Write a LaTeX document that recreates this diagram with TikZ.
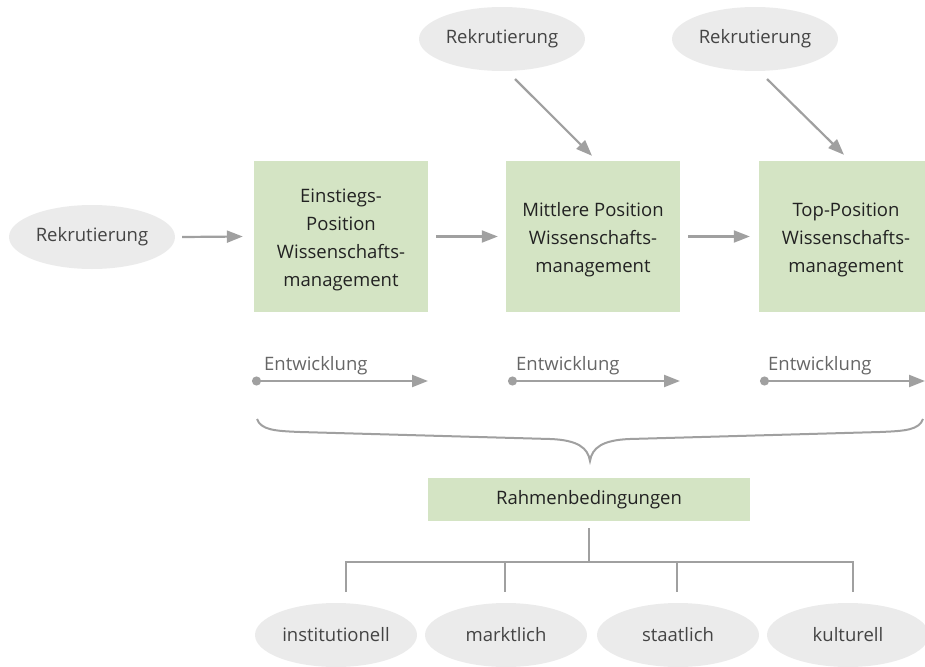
\documentclass[tikz,border=0pt]{standalone}
\usepackage{fontspec}
\setmainfont{Open Sans}
\usetikzlibrary{arrows.meta,shapes.geometric}
\definecolor{boxgreen}{HTML}{D4E4C4}
\definecolor{ellgray}{HTML}{EBEBEB}
\definecolor{linegray}{HTML}{A0A0A0}
\definecolor{txtdark}{HTML}{222222}
\definecolor{txtmid}{HTML}{444444}
\definecolor{txtlight}{HTML}{666666}
\tikzset{
  posbox/.style={rectangle, fill=boxgreen, minimum width=174pt, minimum height=151pt, inner sep=0pt},
  postext/.style={align=center, inner sep=0pt, text=txtdark, font=\fontsize{18.5}{28}\selectfont},
  ellnode/.style={ellipse, fill=ellgray, minimum width=166pt, minimum height=64pt, inner sep=0pt,
     text=txtmid, font=\fontsize{18.5}{22}\selectfont},
  flow/.style={draw=linegray, line width=2.2pt, -{Triangle[length=16pt,width=12pt]}},
  devline/.style={draw=linegray, line width=2.2pt, {Circle[length=9pt]}-{Triangle[length=16pt,width=12pt]}},
  devlabel/.style={anchor=base west, inner sep=0pt, text=txtlight, font=\fontsize{18.5}{22}\selectfont},
  tree/.style={draw=linegray, line width=2pt},
}
\begin{document}
\begin{tikzpicture}[x=1pt,y=-1pt]
\useasboundingbox (0,0) rectangle (925,666);
\clip (0,0) rectangle (925,666);
% recruitment ellipses
\node[ellnode] (r0) at (92,237) {Rekrutierung};
\node[ellnode] (r2) at (502,39) {Rekrutierung};
\node[ellnode] (r3) at (755,39) {Rekrutierung};
% position boxes
\node[posbox] (p1) at (341,236.5) {};
\node[posbox] (p2) at (593,236.5) {};
\node[posbox] (p3) at (846,236.5) {};
\node[postext] (p1t) at ([yshift=-3pt]p1.center) {Einstiegs-\\Position\\Wissenschafts-\\management};
\node[postext] (p2t) at ([yshift=-3pt]p2.center) {Mittlere Position\\Wissenschafts-\\management};
\node[postext] (p3t) at ([yshift=-3pt]p3.center) {Top-Position\\Wissenschafts-\\management};
% horizontal arrows
\draw[flow] ([xshift=7pt]r0.east) -- ([xshift=-11pt]p1.west);
\draw[flow] ([xshift=8pt]p1.east) -- ([xshift=-8pt]p2.west);
\draw[flow] ([xshift=8pt]p2.east) -- ([xshift=-9pt]p3.west);
% diagonal arrows
\coordinate (d2s) at (515,79);
\coordinate (d3s) at (767,79);
\draw[flow] (d2s) -- ([xshift=-1pt,yshift=5pt]p2.north);
\draw[flow] (d3s) -- ([xshift=-2pt,yshift=6pt]p3.north);
% development
\node[devlabel] (e1) at (264,370) {Entwicklung};
\node[devlabel] (e2) at (516,370) {Entwicklung};
\node[devlabel] (e3) at (768,370) {Entwicklung};
\coordinate (e1s) at (252,381); \coordinate (e1e) at (428,381);
\coordinate (e2s) at (508,381); \coordinate (e2e) at (680,381);
\coordinate (e3s) at (760,381); \coordinate (e3e) at (925,381);
\draw[devline] (e1s) -- (e1e);
\draw[devline] (e2s) -- (e2e);
\draw[devline] (e3s) -- (e3e);
% brace
\coordinate (bl) at (257,419);
\coordinate (bt) at (590,461);
\coordinate (br) at (923,419);
\draw[draw=linegray, line width=2pt]
  (bl) .. controls (261,430) and (275,431) .. (300,432)
  -- (550,439) .. controls (578,440) and (588,448) .. (bt)
  .. controls (592,448) and (602,440) .. (630,439)
  -- (880,432) .. controls (905,431) and (919,430) .. (br);
% Rahmenbedingungen
\node[rectangle, fill=boxgreen, minimum width=322pt, minimum height=43pt, inner sep=0pt,
  text=txtdark, font=\fontsize{18.5}{22}\selectfont] (rb) at (589,499.5) {Rahmenbedingungen};
% bottom ellipses
\node[ellnode, minimum width=162pt] (b1) at (336,635) {institutionell};
\node[ellnode, minimum width=162pt] (b2) at (506,635) {marktlich};
\node[ellnode, minimum width=162pt] (b3) at (678,635) {staatlich};
\node[ellnode, minimum width=162pt] (b4) at (848,635) {kulturell};
% tree
\coordinate (tj) at (589,562);
\coordinate (t1) at (346,562); \coordinate (t2) at (505,562);
\coordinate (t3) at (677,562); \coordinate (t4) at (853,562);
\coordinate (u1) at (346,592); \coordinate (u2) at (505,592);
\coordinate (u3) at (677,592); \coordinate (u4) at (853,592);
\draw[tree] ([yshift=-7pt]rb.south) -- (tj);
\draw[tree] (u1) -- (t1) -- (t4) -- (u4);
\draw[tree] (t2) -- (u2);
\draw[tree] (t3) -- (u3);
\end{tikzpicture}
\end{document}
